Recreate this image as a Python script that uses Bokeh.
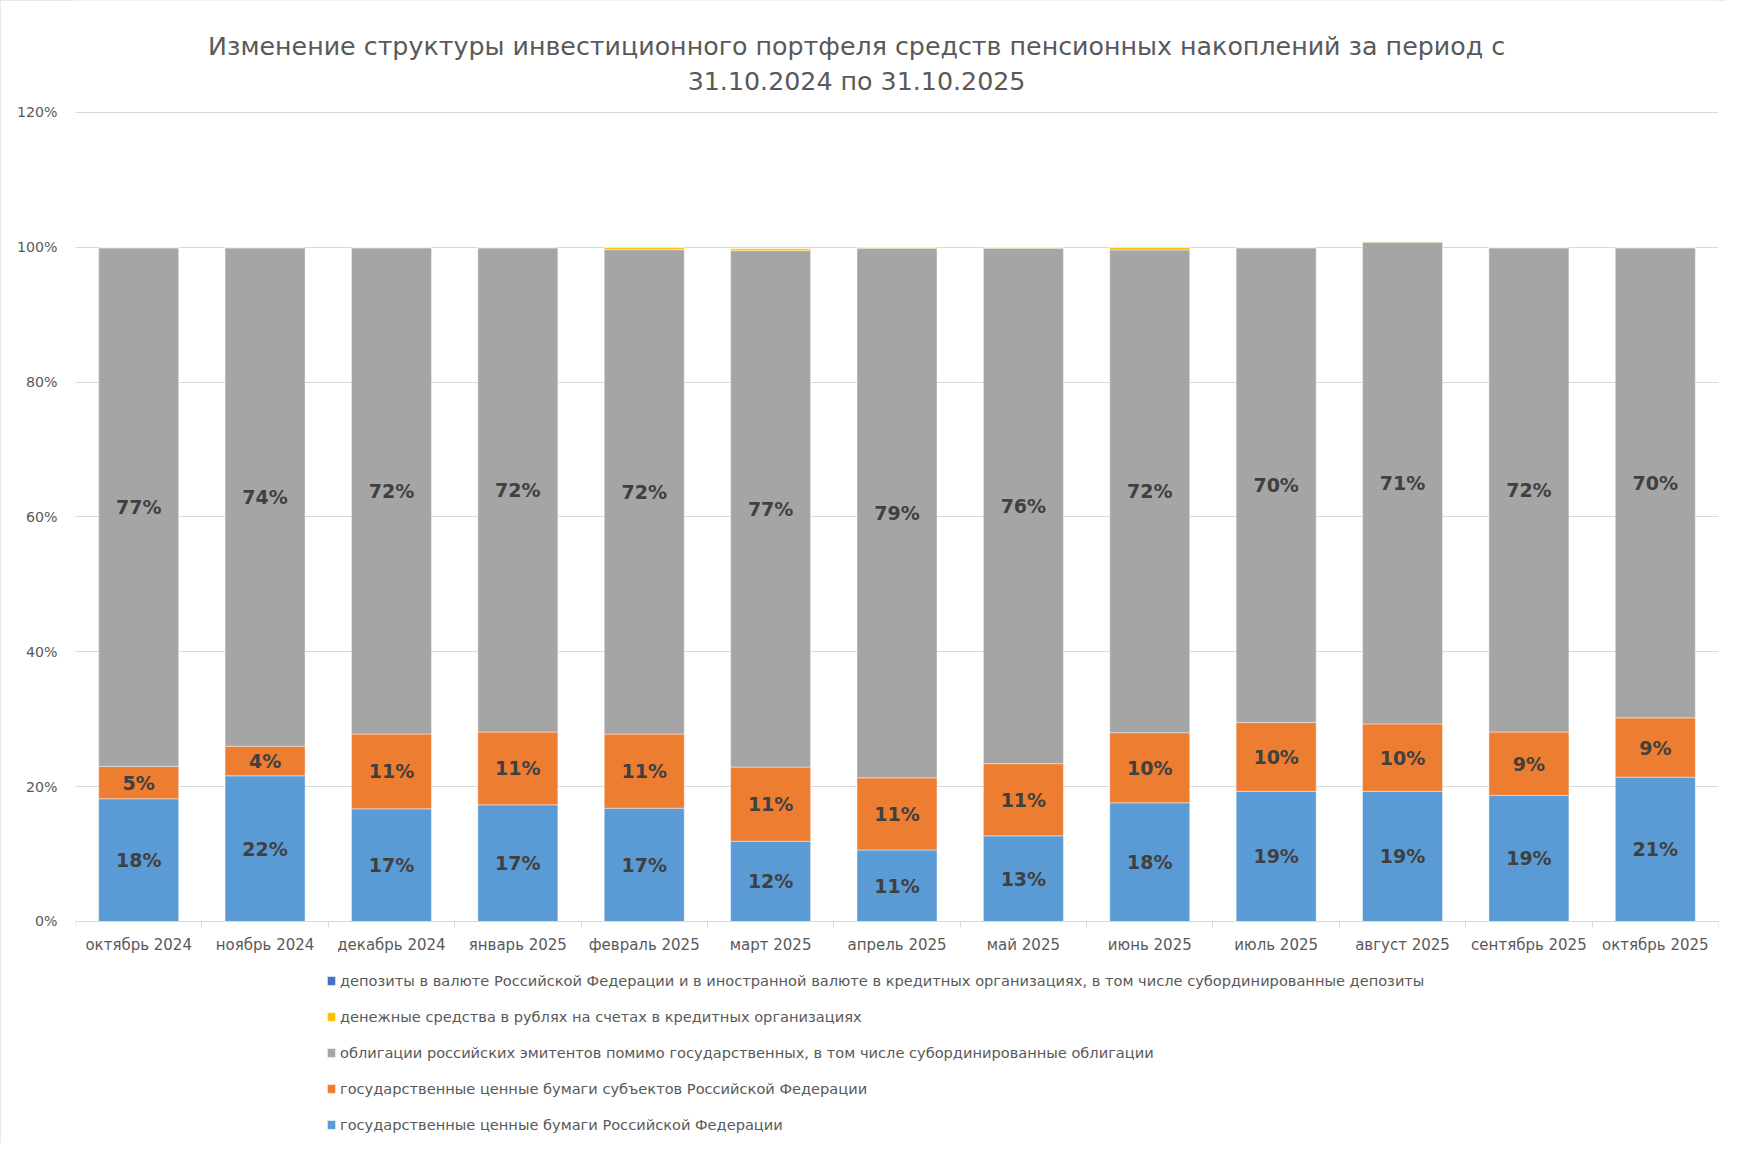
from bokeh.plotting import figure
from bokeh.models import ColumnDataSource, FixedTicker, PrintfTickFormatter, Legend, LegendItem, Label
from bokeh.core.properties import value
from bokeh.embed import file_html
from bokeh.resources import INLINE

FONT = "DejaVu Sans"

months = ["октябрь 2024", "ноябрь 2024", "декабрь 2024", "январь 2025", "февраль 2025",
          "март 2025", "апрель 2025", "май 2025", "июнь 2025", "июль 2025",
          "август 2025", "сентябрь 2025", "октябрь 2025"]

# государственные ценные бумаги Российской Федерации
fed = [18.2, 21.6, 16.7, 17.3, 16.8, 11.9, 10.6, 12.7, 17.6, 19.3, 19.3, 18.7, 21.4]
# государственные ценные бумаги субъектов Российской Федерации
subj = [4.8, 4.4, 11.1, 10.8, 11.0, 11.0, 10.7, 10.7, 10.4, 10.2, 10.0, 9.4, 8.8]
# облигации российских эмитентов помимо государственных
corp = [76.9, 73.9, 72.1, 71.8, 71.85, 76.6, 78.55, 76.45, 71.6, 70.4, 71.45, 71.8, 69.7]
# денежные средства в рублях на счетах в кредитных организациях
cash = [0.1, 0.1, 0.1, 0.1, 0.35, 0.3, 0.15, 0.15, 0.4, 0.1, 0.1, 0.1, 0.1]
# депозиты
dep = [0.0, 0.0, 0.0, 0.0, 0.0, 0.0, 0.0, 0.0, 0.0, 0.0, 0.0, 0.0, 0.0]

series_names = [
    "государственные ценные бумаги Российской Федерации",
    "государственные ценные бумаги субъектов Российской Федерации",
    "облигации российских эмитентов помимо государственных, в том числе субординированные облигации",
    "денежные средства в рублях на счетах в кредитных организациях",
    "депозиты в валюте Российской Федерации и в иностранной валюте в кредитных организациях, в том числе субординированные депозиты",
]
colors = ["#5B9BD5", "#ED7D31", "#A5A5A5", "#FFC000", "#4472C4"]
y_ticks = [0, 20, 40, 60, 80, 100, 120]

title_line1 = "Изменение структуры инвестиционного портфеля средств пенсионных накоплений за период с"
title_line2 = "31.10.2024 по 31.10.2025"

n = len(months)
xs = [i + 0.5 for i in range(n)]
src = ColumnDataSource(dict(x=xs, fed=fed, subj=subj, corp=corp, cash=cash, dep=dep))

# the frame extends above 120% and below 0% so that title and legend (drawn inside the frame) are visible
p = figure(width=1726, height=1143, x_range=(0, n), y_range=(-31.6, 136.6),
           output_backend="svg", toolbar_location=None,
           min_border_left=75, min_border_right=8, min_border_top=0, min_border_bottom=9,
           styles={"outline": "2px solid #e2e2e2", "outline-offset": "-2px"})
p.title = None
p.outline_line_color = None
p.background_fill_color = "white"
p.border_fill_color = "white"

# title (two centred lines)
for txt, ty in ((title_line1, 129.85), (title_line2, 124.55)):
    p.add_layout(Label(x=6.18, y=ty, text=txt, text_align="center", text_baseline="middle",
                       text_font=FONT, text_font_size="25.3px", text_color="#595959"))

renderers = p.vbar_stack(["fed", "subj", "corp", "cash", "dep"], x="x", width=0.633,
                         color=colors, line_color="#ffffff", line_width=0.6, line_alpha=0.7,
                         source=src)

# data labels
lx, ly, lt = [], [], []
for i in range(n):
    base = 0.0
    for vals in (fed, subj, corp):
        v = vals[i]
        lx.append(xs[i])
        ly.append(base + v / 2)
        lt.append(f"{v:.0f}%")
        base += v
p.text(x=lx, y=ly, text=lt, text_font=value(FONT), text_font_style="bold",
       text_font_size="19px", text_color="#404040", text_align="center", text_baseline="middle")

# grid & axes
p.xgrid.visible = False
p.ygrid.ticker = FixedTicker(ticks=y_ticks)
p.ygrid.grid_line_color = "#d9d9d9"
p.ygrid.grid_line_width = 1

ya = p.yaxis[0]
ya.ticker = FixedTicker(ticks=y_ticks)
ya.formatter = PrintfTickFormatter(format="%d%%")
ya.axis_line_color = None
ya.major_tick_line_color = None
ya.major_tick_out = 0
ya.major_tick_in = 0
ya.minor_tick_line_color = None
ya.major_label_text_font = FONT
ya.major_label_text_font_size = "14.2px"
ya.major_label_text_color = "#595959"
ya.major_label_standoff = 18

xa = p.xaxis[0]
xa.fixed_location = 0
xa.ticker = FixedTicker(ticks=xs, minor_ticks=list(range(n + 1)))
xa.major_label_overrides = {x: m for x, m in zip(xs, months)}
xa.axis_line_color = "#d9d9d9"
xa.axis_line_width = 1
xa.major_tick_line_color = None
xa.major_tick_out = 0
xa.major_tick_in = 0
xa.minor_tick_line_color = "#d9d9d9"
xa.minor_tick_out = 6
xa.minor_tick_in = 0
xa.major_label_text_font = FONT
xa.major_label_text_font_size = "15px"
xa.major_label_text_color = "#595959"
xa.major_label_standoff = 9

items = [LegendItem(label=series_names[k], renderers=[renderers[k]]) for k in [4, 3, 2, 1, 0]]
legend = Legend(items=items, location=(251, 0), orientation="vertical",
                border_line_color=None, background_fill_alpha=0, padding=0, margin=0,
                spacing=16, label_height=20, glyph_height=11, glyph_width=10, label_standoff=4,
                label_text_font=FONT, label_text_font_size="14.6px", label_text_color="#595959")
p.add_layout(legend)

open("out.html", "w").write(file_html(p, INLINE))
